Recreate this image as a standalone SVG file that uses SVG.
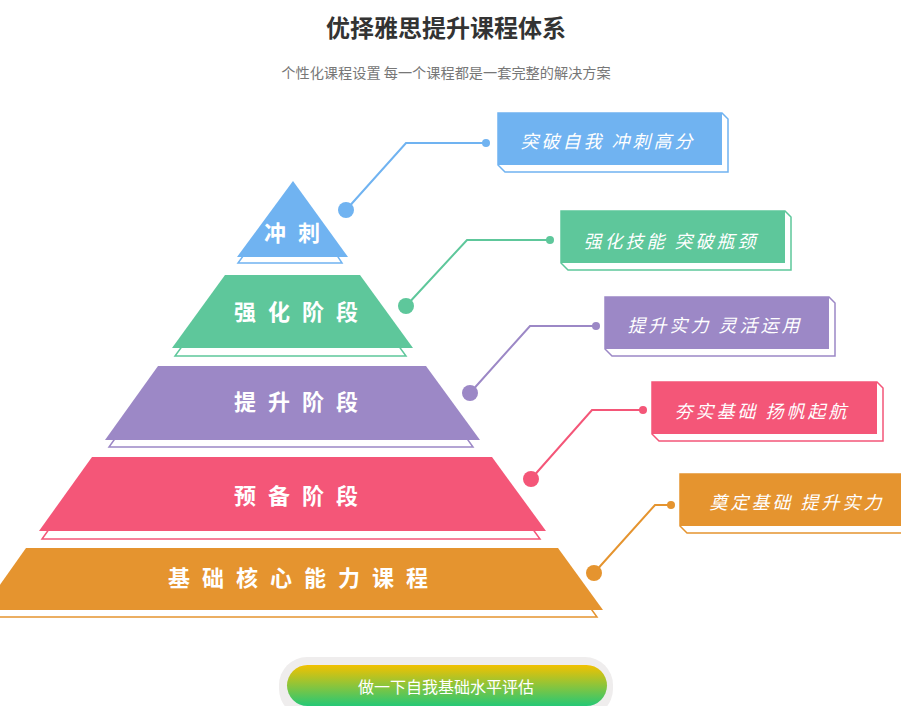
<svg xmlns="http://www.w3.org/2000/svg" width="901" height="706" viewBox="0 0 901 706">
<defs>
<linearGradient id="btnGrad" x1="0" y1="0" x2="0" y2="1">
<stop offset="0" stop-color="#f2c100"/>
<stop offset="1" stop-color="#25c876"/>
</linearGradient>
<style>
.title{font-family:"Noto Sans CJK SC","Liberation Sans",sans-serif;font-size:24px;font-weight:700;fill:#333;}
.sub{font-family:"Noto Sans CJK SC","Liberation Sans",sans-serif;font-size:14.2px;fill:#777;}
.tier{font-family:"Noto Sans CJK SC","Liberation Sans",sans-serif;font-size:22px;font-weight:700;fill:#fff;letter-spacing:12px;}
.lbl{font-family:"Noto Sans CJK SC","Liberation Sans",sans-serif;font-size:18px;font-style:italic;fill:#fff;letter-spacing:3px;}
.btn{font-family:"Noto Sans CJK SC","Liberation Sans",sans-serif;font-size:16px;fill:#fff;}
.sh{fill:#fff;stroke-width:1.5;}
.ln{fill:none;stroke-width:2;}
.blue{fill:#70b3f1;} .green{fill:#5ec79b;} .purple{fill:#9c88c6;} .red{fill:#f45678;} .orange{fill:#e5942f;}
</style>
</defs>
<rect width="901" height="706" fill="#fff"/>
<text class="title" x="446" y="37" text-anchor="middle">优择雅思提升课程体系</text>
<text class="sub" x="446" y="78" text-anchor="middle">个性化课程设置 每一个课程都是一套完整的解决方案</text>

<g id="tier-chongci">
<polygon class="sh" stroke="#70b3f1" points="293,188 238,263 342,263"/>
<polygon class="blue" points="293,181 237,257 348,257"/>
<text class="tier" x="298" y="241" text-anchor="middle">冲刺</text>
</g>
<g id="tier-qianghua">
<polygon class="sh" stroke="#5ec79b" points="228,283 353,283 406,356 175,356"/>
<polygon class="green" points="225,275 360,275 413,348 172,348"/>
<text class="tier" x="302" y="320" text-anchor="middle">强化阶段</text>
</g>
<g id="tier-tisheng">
<polygon class="sh" stroke="#9c88c6" points="162,373 420,373 473,447 109,447"/>
<polygon class="purple" points="158,366 426,366 480,440 105,440"/>
<text class="tier" x="302" y="410" text-anchor="middle">提升阶段</text>
</g>
<g id="tier-yubei">
<polygon class="sh" stroke="#f45678" points="95,465 486,465 540,539 42,539"/>
<polygon class="red" points="92,457 492,457 546,531 39,531"/>
<text class="tier" x="302" y="504" text-anchor="middle">预备阶段</text>
</g>
<g id="tier-jichu">
<polygon class="sh" stroke="#e5942f" points="30,555 552,555 597,617 -20,617"/>
<polygon class="orange" points="26,548 558,548 603,610 -18,610"/>
<text class="tier" x="304" y="586" text-anchor="middle">基础核心能力课程</text>
</g>

<g id="connectors">
<polyline class="ln" stroke="#70b3f1" points="346,210 406,143 486,143"/>
<circle cx="346" cy="210" r="8" fill="#70b3f1"/>
<circle cx="486" cy="143" r="4" fill="#70b3f1"/>
<polyline class="ln" stroke="#5ec79b" points="406,306 467,240 550,240"/>
<circle cx="406" cy="306" r="8" fill="#5ec79b"/>
<circle cx="550" cy="240" r="4" fill="#5ec79b"/>
<polyline class="ln" stroke="#9c88c6" points="470,393 530,326 596,326"/>
<circle cx="470" cy="393" r="8" fill="#9c88c6"/>
<circle cx="596" cy="326" r="4" fill="#9c88c6"/>
<polyline class="ln" stroke="#f45678" points="531,479 592,410 643,410"/>
<circle cx="531" cy="479" r="8" fill="#f45678"/>
<circle cx="643" cy="410" r="4" fill="#f45678"/>
<polyline class="ln" stroke="#e5942f" points="594,573 655,505 671,505"/>
<circle cx="594" cy="573" r="8" fill="#e5942f"/>
<circle cx="671" cy="505" r="4" fill="#e5942f"/>
</g>

<g id="box-blue">
<polygon class="sh" stroke="#70b3f1" points="498,113 722,113 728,119 728,172 505,172 498,165"/>
<rect class="blue" x="498" y="113" width="224" height="52"/>
<text class="lbl" x="608" y="148" text-anchor="middle">突破自我 冲刺高分</text>
</g>
<g id="box-green">
<polygon class="sh" stroke="#5ec79b" points="561,211 785,211 791,217 791,270 568,270 561,263"/>
<rect class="green" x="561" y="211" width="224" height="52"/>
<text class="lbl" x="671" y="248" text-anchor="middle">强化技能 突破瓶颈</text>
</g>
<g id="box-purple">
<polygon class="sh" stroke="#9c88c6" points="605,297 829,297 835,303 835,356 612,356 605,349"/>
<rect class="purple" x="605" y="297" width="224" height="52"/>
<text class="lbl" x="715" y="332" text-anchor="middle">提升实力 灵活运用</text>
</g>
<g id="box-red">
<polygon class="sh" stroke="#f45678" points="652,382 877,382 883,388 883,441 659,441 652,434"/>
<rect class="red" x="652" y="382" width="225" height="52"/>
<text class="lbl" x="762" y="418" text-anchor="middle">夯实基础 扬帆起航</text>
</g>
<g id="box-orange">
<polygon class="sh" stroke="#e5942f" points="680,474 904,474 910,480 910,533 687,533 680,526"/>
<rect class="orange" x="680" y="474" width="224" height="52"/>
<text class="lbl" x="797" y="509" text-anchor="middle">奠定基础 提升实力</text>
</g>

<g id="button">
<rect x="279" y="657" width="334" height="60" rx="28" fill="#efeded"/>
<rect x="287" y="665" width="320" height="41" rx="20.5" fill="url(#btnGrad)"/>
<text class="btn" x="446" y="693" text-anchor="middle">做一下自我基础水平评估</text>
</g>
</svg>
